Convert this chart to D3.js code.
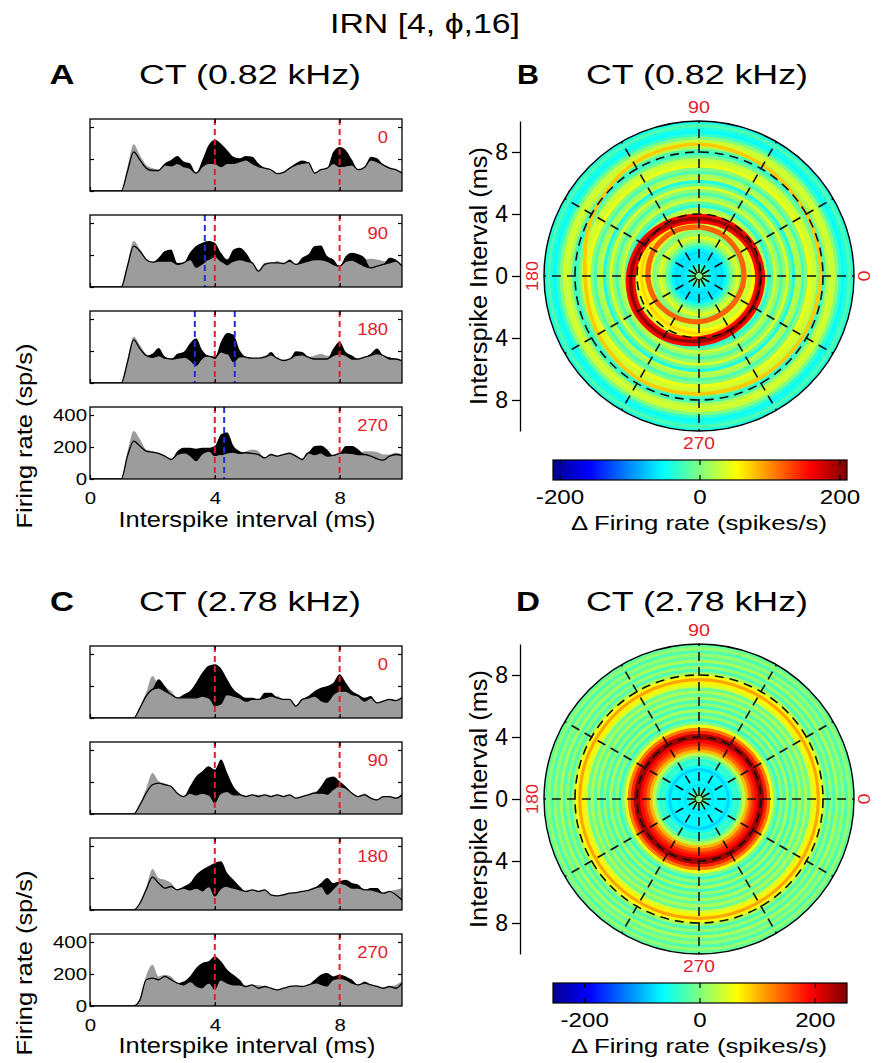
<!DOCTYPE html>
<html>
<head>
<meta charset="utf-8">
<script src="https://cdn.jsdelivr.net/npm/d3@7"></script>
<style>
  body { margin: 0; background: #fff; }
  svg { font-family: "Liberation Sans", Arial, sans-serif; }
</style>
</head>
<body>
<svg id="fig" width="883" height="1063"></svg>
<script>
const _ = null
const step = 0.2   // ms per histogram bin (and per ring in the polar plots)

// ---- interval histograms, one value per 0.2 ms bin from 0 to 10 ms ----
// gray = filled histogram, line = black curve, hi/lo = edges of the black fill (null -> on the line)
const phaseTags = ['0', '90', '180', '270']

const lineA0 = [0,0,0,0,0, 0,122,245,194,143, 128,128,163,157,173, 153,143,112,153,173, 173,153,173,173,184, 194,173,153,143,133, 108,116,143,163,173, 177,112,133,143,173, 153,157,163,133,149, 194,184,163,143,133, 112]
const grayA0 = [0,0,0,0,0, 0,150,292,224,163, 143,133,163,157,173, 153,143,115,153,173, 173,153,173,173,184, 194,173,153,143,133, 110,118,143,163,173, 177,115,133,143,173, 153,157,163,133,149, 194,184,163,143,133, 112]
const hiA0 = [_,_,_,_,_, _,_,_,_,_, _,_,173,194,218, 184,173,_,194,286, 320,296,255,214,204, 218,214,173,_,_, _,_,_,173,190, _,_,_,_,245, 275,255,194,_,_, 214,204]
const loA0 = []

const lineA90 = [0,0,0,0,0, 0,130,256,225,172, 155,162,162,162,141, 151,172,162,183,172, 193,162,151,162,172, 162,151,99,141,151, 151,147,162,141,151, 162,172,172,162,141, 130,162,168,151,130, 120,130,141,151,162, 130]
const grayA90 = [0,0,0,0,0, 0,150,288,235,172, 155,162,162,162,141, 151,172,162,183,172, 193,162,151,162,172, 162,151,104,151,151, 162,147,162,141,151, 162,172,172,162,141, 130,162,168,151,172, 176,172,162,160,165, 140]
const hiA90 = [_,_,_,_,_, _,_,_,_,_, _,183,225,235,150, _,214,256,277,288, 277,214,172,235,246, 214,_,_,_,_, _,_,172,_,183, 204,256,260,193,172, _,193,214,204,183, _,_,_,183,172]
const loA90 = [_,_,_,_,_, _,_,_,_,_, _,_,_,_,_, _,_,120,140,_, _,_,135]

const lineA180 = [0,0,0,0,0, 0,129,269,215,172, 161,172,155,150,155, 161,161,161,172,168, 161,194,183,194,172, 161,155,155,161,176, 155,140,150,172,176, 161,150,150,150,172, 183,172,150,150,161, 172,183,172,150,150, 140]
const grayA180 = [0,0,0,0,0, 0,150,290,237,180, 161,172,155,150,155, 161,161,161,172,168, 161,194,183,194,172, 161,155,155,172,176, 155,148,155,172,176, 161,172,183,170,172, 183,172,150,150,161, 172,183,172,150,150, 140]
const hiA180 = [_,_,_,_,_, _,_,_,_,_, 183,219,165,_,183, 194,247,280,204,_, _,258,312,301,204, _,_,_,_,194, _,_,_,198,194, _,_,_,_,215, 258,194,172,_,_, 183,215,_,161]
const loA180 = [_,_,_,_,_, _,_,_,_,_, _,_,_,_,_, _,140,107,150,_, 150,_,_,130,160]

const lineA270 = [0,0,0,0,0, 0,143,237,206,174, 168,160,143,122,153, 164,164,174,164,174, 164,153,164,168,160, 164,160,153,132,153, 143,153,160,143,122, 164,153,164,143,147, 160,164,160,153,153, 143,126,118,143,153, 147]
const grayA270 = [0,0,0,0,0, 0,170,300,248,185, 174,160,143,122,153, 164,164,174,164,174, 164,153,164,168,160, 174,185,174,132,153, 143,153,168,143,122, 164,153,164,143,147, 160,164,160,153,174, 174,168,153,153,164, 153]
const hiA270 = [_,_,_,_,_, _,_,_,_,_, _,_,_,_,174, 195,195,189,195,195, 206,279,290,206,174, _,_,_,_,_, _,_,_,_,_, _,206,210,185,_, _,206,206,185]
const loA270 = [_,_,_,_,_, _,_,_,_,_, _,_,_,_,_, _,143,111,153,_, 143]

const lineC0 = [0,0,0,0,0, 0,0,0,63,137, 179,189,168,147,126, 126,126,126,137,126, 105,137,147,137,126, 105,116,116,126,137, 126,116,116,74,116, 126,137,116,105,147, 168,168,147,137,105, 126,95,105,116,109, 126]
const grayC0 = [0,0,0,0,0, 0,0,0,70,160, 263,210,190,168,126, 126,126,126,137,126, 105,137,147,137,126, 105,116,116,126,137, 137,116,116,74,116, 126,137,116,105,147, 168,168,147,137,105, 126,95,110,116,109, 137]
const hiC0 = [_,_,_,_,_, _,_,_,_,_, _,242,200,_,_, 147,168,221,284,326, 336,309,242,179,147, 126,126,_,158,158, _,_,_,_,_, 137,168,189,200,221, 273,221,168,147,126, 137]
const loC0 = [_,_,_,_,_, _,_,_,_,_, _,_,_,_,_, _,_,_,_,_, 74,84,_,_,_, _,_,_,_,_, _,_,_,_,_, _,_,105,95]

const lineC90 = [0,0,0,0,0, 0,0,0,57,130, 183,193,183,172,130, 109,130,120,130,120, 99,130,141,120,120, 109,120,109,120,109, 120,109,120,99,109, 120,130,130,151,183, 172,162,130,109,120, 99,88,109,109,99, 120]
const grayC90 = [0,0,0,0,0, 0,0,0,65,160, 256,205,190,172,130, 109,130,120,130,120, 99,130,141,120,120, 109,120,120,120,109, 120,109,120,99,109, 120,141,130,151,183, 172,162,130,109,130, 99,88,109,109,99, 130]
const hiC90 = [_,_,_,_,_, _,_,_,_,_, _,_,_,_,_, _,172,235,267,298, 277,340,256,172,130, _,_,_,_,_, _,_,_,_,_, _,_,172,225,235, 204,172]
const loC90 = [_,_,_,_,_, _,_,_,_,_, _,_,_,_,_, _,_,_,_,_, 67,_,_,_,_, _,_,_,_,_, _,_,_,_,_, _,_,_,120,150]

const lineC180 = [0,0,0,0,0, 0,0,0,42,126, 205,168,137,147,126, 137,126,137,126,147, 137,168,147,137,126, 116,126,116,126,95, 88,95,105,109,116, 122,137,147,147,137, 168,158,137,137,126, 126,116,105,116,95, 63]
const grayC180 = [0,0,0,0,0, 0,0,0,50,140, 256,200,189,168,126, 137,126,137,126,147, 137,168,147,137,126, 116,126,116,126,95, 88,101,105,109,116, 122,143,147,147,137, 168,158,137,137,126, 126,116,105,116,126, 137]
const hiC180 = [_,_,_,_,_, _,_,_,_,_, _,_,_,_,_, 147,168,221,252,273, 294,305,231,189,147, _,_,_,_,_, _,_,_,_,_, _,_,168,200,168, 179,189,168,158,_, 137,137]
const loC180 = [_,_,_,_,_, _,_,_,_,_, _,_,_,_,_, _,_,_,116,_, 84,130,_,_,_, _,_,_,_,_, _,_,_,_,_, _,_,_,95,126]

const lineC270 = [0,0,0,0,0, 0,0,0,38,164, 174,164,185,164,143, 132,153,143,132,143, 153,164,143,132,132, 122,132,111,122,111, 101,111,122,126,122, 132,143,153,143,164, 174,164,143,132,143, 132,122,111,122,111, 143]
const grayC270 = [0,0,0,0,0, 0,0,0,45,190, 258,185,195,185,143, 132,153,143,132,143, 153,164,143,132,132, 122,132,132,122,111, 101,111,122,126,122, 132,143,153,143,164, 174,164,143,132,143, 132,122,111,122,132, 153]
const hiC270 = [_,_,_,_,_, _,_,_,_,_, _,_,_,_,_, 153,185,237,269,279, 311,279,227,195,164, _,_,_,_,_, _,_,_,_,_, _,164,195,206,185, 195,185,164,_,153]
const loC270 = [_,_,_,_,_, _,_,_,_,_, _,_,_,_,_, _,_,122,111,_, 101,_,_,_,_, _,_,_,_,_, _,_,_,_,_, _,_,132,122]

const refLines = [4, 8]                               // red dashed, ms
const blueA = [[], [3.68], [3.36, 4.64], [4.3]]       // blue dashed, ms
const blueC = [[], [], [], []]

// ---- polar maps: delta firing rate per 0.2 ms ring (0 .. 10 ms) ----
const profB = [0,-5,-20,-45,-60, -65,-60,-65,-55,-30, -5,20,40,10,0, 35,30,55,70,55, 30,20,-35,-15,30, 10,-20,5,35,-10, -40,25,15,-20,0, 45,35,30,-5,-30, -20,20,35,30,0, -30,-50,-40,-20,-40]
const profD = [0,-10,-35,-60,-75, -65,-70,-60,-65,-85, -60,-35,-45,-10,30, 100,140,170,190,240, 235,175,130,55,0, -35,10,-25,20,-30, 10,-25,20,-15,20, -10,45,70,110,60, 20,-25,10,-25,20, -15,10,-25,10,-15]
// phase dependent ridges in B: interval of the ridge at each phase
const armPhase = [0, 30, 60, 90, 120, 150, 180, 210, 240, 270, 300, 330]
const armB1 = [3.95, 3.85, 3.75, 3.7, 3.85, 4.15, 4.4, 4.55, 4.45, 4.2, 4.05, 4.0]
const armB2 = [2.9, 2.95, 3.05, 3.15, 3.3, 3.35, 3.3, 3.2, 3.05, 2.95, 2.85, 2.85]
const armB3 = [7.85, 8.0, 8.25, 8.5, 8.4, 7.9, 7.35, 7.5, 7.7, 7.6, 7.65, 7.75]
const armBval = [200, 150, 95]
const climB = [-210, 210], climD = [-255, 255]
const cbarTicks = [-200, 0, 200]

// ---------------------------------------------------------------
const svg = d3.select('#fig')
const red = '#e3202c', blue = '#2030e0'
const jetStops = [[0, '#00008f'], [0.125, '#0000ff'], [0.375, '#00ffff'], [0.625, '#ffff00'], [0.875, '#ff0000'], [1, '#800000']]
const jet = clim => d3.scaleLinear()
  .domain(jetStops.map(s => clim[0] + s[0] * (clim[1] - clim[0])))
  .range(jetStops.map(s => s[1])).clamp(true)

function widen(sel, k) {
  sel.each(function () {
    const x = +this.getAttribute('x') || 0
    this.setAttribute('transform', `translate(${x},0) scale(${k},1) translate(${-x},0)`)
  })
}

function label(txt, x, y, size, len, opt = {}) {
  const t = svg.append('text').attr('x', x).attr('y', y)
    .attr('font-size', size).attr('text-anchor', opt.anchor || 'middle').text(txt)
  if (len) t.attr('textLength', len).attr('lengthAdjust', 'spacingAndGlyphs')
  if (opt.rotate) t.attr('transform', `rotate(${opt.rotate},${x},${y})`)
  if (opt.fill) t.attr('fill', opt.fill)
  if (opt.bold) t.attr('font-weight', 'bold')
  return t
}

// ---- histograms ----
let clipN = 0
const xH = d3.scaleLinear().domain([0, 10]).range([90, 402])

function drawHist(p, top, last, blues) {
  const y = d3.scaleLinear().domain([0, 450]).range([top + 72, top])
  const g = svg.append('g')
  const id = 'hc' + clipN++
  g.append('clipPath').attr('id', id).append('rect')
    .attr('x', xH(0)).attr('y', top).attr('width', xH(10) - xH(0)).attr('height', 72)
  const body = g.append('g').attr('clip-path', `url(#${id})`)
  const xi = (d, i) => xH(i * step)

  body.append('path').datum(p.gray)
    .attr('d', d3.area().x(xi).y0(y(0)).y1(d => y(d)).curve(d3.curveMonotoneX))
    .attr('fill', '#9c9c9c')

  const band = p.line.map((v, i) => [p.hi[i] ?? v, p.lo[i] ?? v])
  body.append('path').datum(band)
    .attr('d', d3.area().x(xi).y0(d => y(d[1])).y1(d => y(d[0])).curve(d3.curveMonotoneX))
    .attr('fill', '#000')

  body.append('path').datum(p.line)
    .attr('d', d3.line().x(xi).y(d => y(d)).curve(d3.curveMonotoneX))
    .attr('fill', 'none').attr('stroke', '#000').attr('stroke-width', 1.3)

  const vline = (vals, color) => body.append('g').selectAll('line').data(vals).join('line')
    .attr('x1', d => xH(d)).attr('x2', d => xH(d)).attr('y1', top).attr('y2', top + 72)
    .attr('stroke', color).attr('stroke-width', 2).attr('stroke-dasharray', '6,4')
  vline(refLines, red)
  vline(blues, blue)

  g.append('rect').attr('x', xH(0)).attr('y', top).attr('width', xH(10) - xH(0)).attr('height', 72)
    .attr('fill', 'none').attr('stroke', '#000').attr('stroke-width', 1.3)

  const fmt = last ? d3.format('d') : () => ''
  const none = () => ''
  const axes = [
    [d3.axisLeft(y).tickValues([0, 200, 400]).tickFormat(fmt).tickPadding(3), `translate(${xH(0)},0)`],
    [d3.axisRight(y).tickValues([200, 400]).tickFormat(none), `translate(${xH(10)},0)`],
    [d3.axisBottom(xH).tickValues([0, 4, 8]).tickFormat(fmt).tickPadding(13), `translate(0,${top + 72})`],
    [d3.axisTop(xH).tickValues([4, 8]).tickFormat(none), `translate(0,${top})`]
  ]
  axes.forEach(([a, tr]) => {
    const ag = g.append('g').attr('transform', tr).call(a.tickSize(-4))
    ag.select('.domain').remove()
    ag.attr('font-size', 17).attr('font-family', null)
    ag.selectAll('line').attr('stroke-width', 1.2)
    ag.selectAll('text').call(widen, 1.2)
  })

  g.append('text').attr('x', 388).attr('y', top + 24).attr('text-anchor', 'end')
    .attr('fill', red).attr('font-size', 16.5).text(p.tag).call(widen, 1.12)
}

const panelsA = [
  { tag: phaseTags[0], line: lineA0, gray: grayA0, hi: hiA0, lo: loA0 },
  { tag: phaseTags[1], line: lineA90, gray: grayA90, hi: hiA90, lo: loA90 },
  { tag: phaseTags[2], line: lineA180, gray: grayA180, hi: hiA180, lo: loA180 },
  { tag: phaseTags[3], line: lineA270, gray: grayA270, hi: hiA270, lo: loA270 }
]
const panelsC = [
  { tag: phaseTags[0], line: lineC0, gray: grayC0, hi: hiC0, lo: loC0 },
  { tag: phaseTags[1], line: lineC90, gray: grayC90, hi: hiC90, lo: loC90 },
  { tag: phaseTags[2], line: lineC180, gray: grayC180, hi: hiC180, lo: loC180 },
  { tag: phaseTags[3], line: lineC270, gray: grayC270, hi: hiC270, lo: loC270 }
]
const topsA = [119, 215, 311, 407]
const topsC = [646, 742, 838, 934]
panelsA.forEach((p, k) => drawHist(p, topsA[k], k === 3, blueA[k]))
panelsC.forEach((p, k) => drawHist(p, topsC[k], k === 3, blueC[k]))

label('Interspike interval (ms)', 247, 527, 22, 257)
label('Interspike interval (ms)', 247, 1053, 22, 257)
label('Firing rate (sp/s)', 32, 436, 22, 185, { rotate: -90 })
label('Firing rate (sp/s)', 32, 963, 22, 185, { rotate: -90 })

// ---- polar plots ----
const rP = d3.scaleLinear().domain([0, 10]).range([0, 155])

function drawPolar(cx, cy, prof, clim, arms) {
  const col = jet(clim)
  const g = svg.append('g').attr('transform', `translate(${cx},${cy})`)
  const arc = d3.arc()
  g.selectAll('path.ring').data(prof).join('path').attr('class', 'ring')
    .attr('d', (v, i) => arc({
      innerRadius: rP(i * step),
      outerRadius: Math.min(rP((i + 1) * step) + 0.6, rP(10)),
      startAngle: 0, endAngle: 2 * Math.PI
    }))
    .attr('fill', v => col(v))

  const band = (isi, w) => d3.areaRadial()
    .angle((d, i) => (90 - armPhase[i]) * Math.PI / 180)
    .innerRadius(d => rP(d - w)).outerRadius(d => rP(d + w))
    .curve(d3.curveCardinalClosed)(isi)
  arms.forEach(a => {
    g.append('path').attr('d', band(a.isi, a.halo)).attr('fill', col(a.val * 0.78)).attr('fill-rule', 'evenodd')
    if (a.core) g.append('path').attr('d', band(a.isi, a.core)).attr('fill', col(a.val)).attr('fill-rule', 'evenodd')
  })

  g.selectAll('circle.grid').data([4, 8]).join('circle').attr('class', 'grid')
    .attr('r', d => rP(d)).attr('fill', 'none').attr('stroke', '#111')
    .attr('stroke-width', 1.6).attr('stroke-dasharray', '9,6')
  const rad = a => a * Math.PI / 180
  g.selectAll('line.spoke').data(d3.range(0, 360, 30)).join('line').attr('class', 'spoke')
    .attr('x1', a => rP(0.2) * Math.cos(rad(a))).attr('y1', a => -rP(0.2) * Math.sin(rad(a)))
    .attr('x2', a => rP(10) * Math.cos(rad(a))).attr('y2', a => -rP(10) * Math.sin(rad(a)))
    .attr('stroke', '#111').attr('stroke-width', 1.6).attr('stroke-dasharray', '9,6')
  g.append('circle').attr('r', rP(10)).attr('fill', 'none').attr('stroke', '#000').attr('stroke-width', 1.4)

  // interval axis on the left
  const yy = d3.scaleLinear().domain([-10, 10]).range([rP(10), -rP(10)])
  const ag = g.append('g').attr('transform', 'translate(-179,0)')
    .call(d3.axisLeft(yy).tickValues([-8, -4, 0, 4, 8]).tickFormat(d => Math.abs(d))
      .tickSize(8).tickSizeOuter(0).tickPadding(4))
  ag.attr('font-size', 23).attr('font-family', null)
  ag.selectAll('line, path').attr('stroke-width', 1.3)

  const t = (txt, x, y, len, rot) => {
    const el = g.append('text').attr('x', x).attr('y', y).attr('text-anchor', 'middle')
      .attr('font-size', 16.5).attr('fill', red).text(txt)
      .attr('textLength', len).attr('lengthAdjust', 'spacingAndGlyphs')
    if (rot) el.attr('transform', `rotate(${rot},${x},${y})`)
  }
  t('90', 0, -163, 22)
  t('270', 0, 173, 32)
  t('180', -161, 0, 30, -90)
  t('0', 159, 0, 11, 90)

  label('Interspike Interval (ms)', cx - 212, cy, 23, 258, { rotate: -90 })
}

drawPolar(699, 276, profB, climB, [
  { isi: armB1, val: armBval[0], halo: 0.32, core: 0.12 },
  { isi: armB2, val: armBval[1], halo: 0.17, core: 0 },
  { isi: armB3, val: armBval[2], halo: 0.12, core: 0 }
])
drawPolar(699, 799, profD, climD, [])

// ---- colour bars ----
const grad = svg.append('defs').append('linearGradient').attr('id', 'jetGrad')
jetStops.forEach(s => grad.append('stop').attr('offset', s[0]).attr('stop-color', s[1]))

function drawCbar(y0, clim) {
  const x = d3.scaleLinear().domain(clim).range([553, 847])
  const g = svg.append('g')
  g.append('rect').attr('x', x.range()[0]).attr('y', y0).attr('width', x.range()[1] - x.range()[0]).attr('height', 20)
    .attr('fill', 'url(#jetGrad)').attr('stroke', '#000').attr('stroke-width', 1.2)
  cbarTicks.forEach(v => {
    g.append('line').attr('x1', x(v)).attr('x2', x(v)).attr('y1', y0).attr('y2', y0 + 5).attr('stroke', '#000').attr('stroke-width', 1.2)
    g.append('line').attr('x1', x(v)).attr('x2', x(v)).attr('y1', y0 + 15).attr('y2', y0 + 20).attr('stroke', '#000').attr('stroke-width', 1.2)
  })
  g.selectAll('text').data(cbarTicks).join('text')
    .attr('x', d => x(d)).attr('y', y0 + 44).attr('text-anchor', 'middle').attr('font-size', 21)
    .text(d => d).call(widen, 1.15)
  label('\u0394 Firing rate (spikes/s)', 699, y0 + 70, 21, 256)
}
drawCbar(460, climB)
drawCbar(983, climD)

// ---- titles ----
label('IRN [4, \u03D5,16]', 425, 33, 27, 190)
label('A', 62, 84, 27, 25, { bold: true })
label('CT (0.82 kHz)', 250, 84, 27, 222)
label('B', 528, 84, 27, 22, { bold: true })
label('CT (0.82 kHz)', 697, 84, 27, 222)
label('C', 62, 611, 27, 24, { bold: true })
label('CT (2.78 kHz)', 250, 611, 27, 222)
label('D', 528, 611, 27, 24, { bold: true })
label('CT (2.78 kHz)', 697, 611, 27, 222)
</script>
</body>
</html>
